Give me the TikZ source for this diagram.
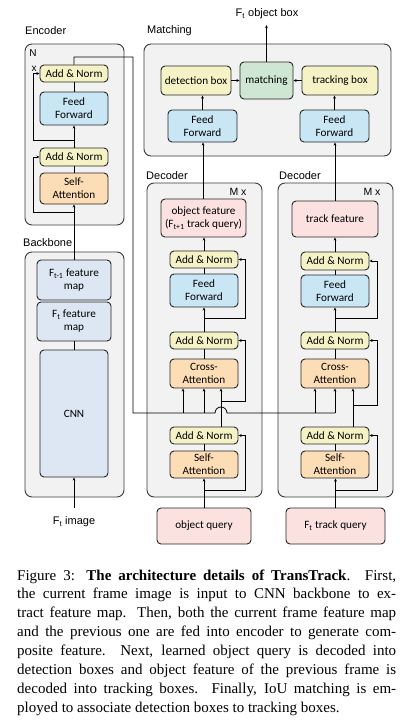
\documentclass[tikz,border=0pt]{standalone}
\usepackage{fontspec}
\setmainfont{Liberation Serif}
\newfontfamily\cf{Carlito}
\newfontfamily\af{Liberation Sans}
\usetikzlibrary{arrows.meta}
\definecolor{grp}{HTML}{F2F2F2}
\definecolor{grpline}{HTML}{3A3A3A}
\definecolor{anY}{HTML}{F5F3C6}
\definecolor{ffB}{HTML}{C9E6F5}
\definecolor{atO}{HTML}{FDDDB6}
\definecolor{pkP}{HTML}{FCE1E1}
\definecolor{mtG}{HTML}{CFE7D2}
\definecolor{bbB}{HTML}{DCE7F3}
\newcommand\mybox[7]{\node[#1,minimum width={(#5-#3)*1pt},minimum height={(#6-#4)*1pt}] (#2) at ({(#3+#5)/2},{(#4+#6)/2}) {#7};}
\begin{document}
\begin{tikzpicture}[x=1pt,y=-1pt,
 grpbox/.style={draw=grpline, fill=grp, rounded corners=7pt, line width=0.9pt, inner sep=0pt},
 blk/.style={draw=black!85, rounded corners=4pt, line width=0.9pt, align=center, font=\cf\fontsize{11.2}{13}\selectfont, inner sep=0pt},
 an/.style={blk, fill=anY},
 ff/.style={blk, fill=ffB},
 att/.style={blk, fill=atO},
 pk/.style={blk, fill=pkP},
 mt/.style={blk, fill=mtG},
 bb/.style={blk, fill=bbB},
 lbl/.style={font=\af\fontsize{11}{13}\selectfont, inner sep=0pt},
 captxt/.style={font=\fontsize{15}{19}\selectfont, inner sep=0pt},
 con/.style={line width=0.8pt, black},
 arr/.style={con, -{Stealth[length=3.2pt,width=2.8pt]}},
]
\fill[white] (0,0) rectangle (414,726);
\useasboundingbox (0,0) rectangle (414,726);

% ---------- group boxes ----------
\mybox{grpbox}{encG}{25}{44}{124}{225}{}
\mybox{grpbox}{bbG}{25}{252}{124}{497}{}
\mybox{grpbox}{mG}{144}{44}{391}{156}{}
\mybox{grpbox}{d1G}{147}{183}{262}{497}{}
\mybox{grpbox}{d2G}{278}{183}{393}{497}{}

% ---------- labels ----------
\node[lbl, anchor=west] (lEnc) at (25,31) {Encoder};
\node[lbl, anchor=west] (lMat) at (147,31) {Matching};
\node[lbl, anchor=west] (lDec1) at (146,176) {Decoder};
\node[lbl, anchor=west] (lDec2) at (279,176) {Decoder};
\node[lbl, anchor=west] (lBb) at (23,243) {Backbone};
\node[lbl, font=\af\fontsize{10}{12}\selectfont] (lN) at (33,53) {N};
\node[lbl, font=\af\fontsize{10}{12}\selectfont] (lx) at (34,69) {x};
\node[lbl, font=\af\fontsize{10.5}{12}\selectfont] (lM1) at (238,192) {M x};
\node[lbl, font=\af\fontsize{10.5}{12}\selectfont] (lM2) at (372,192) {M x};
\node[lbl] (lOut) at (267,14) {F\textsubscript{t} object box};
\node[lbl] (lImg) at (74,522) {F\textsubscript{t} image};

% ---------- encoder ----------
\mybox{an}{eAN2}{40}{65}{108}{82}{Add \& Norm}
\mybox{ff}{eFF}{40}{92}{108}{125}{Feed\\Forward}
\mybox{an}{eAN1}{40}{148}{108}{166}{Add \& Norm}
\mybox{att}{eSA}{40}{173}{108}{204}{Self-\\Attention}

% ---------- backbone ----------
\mybox{bb}{fm1}{37}{260}{111}{300}{F\textsubscript{t-1} feature\\map}
\mybox{bb}{fm0}{37}{302}{111}{341}{F\textsubscript{t} feature\\map}
\mybox{bb}{cnn}{40}{350}{108}{477}{CNN}

% ---------- matching ----------
\mybox{an}{det}{161}{66}{231}{95}{detection box}
\mybox{mt}{mat}{240}{62}{293}{99}{matching}
\mybox{an}{trk}{302}{66}{378}{95}{tracking box}
\mybox{ff}{mFF1}{168}{110}{237}{142}{Feed\\Forward}
\mybox{ff}{mFF2}{300}{110}{369}{142}{Feed\\Forward}

% ---------- decoder 1 ----------
\mybox{pk}{objf}{161}{199}{246}{237}{object feature\\(F\textsubscript{t+1} track query)}
\mybox{an}{d1AN3}{170}{251}{238}{268}{Add \& Norm}
\mybox{ff}{d1FF}{170}{274}{238}{307}{Feed\\Forward}
\mybox{an}{d1AN2}{170}{332}{238}{349}{Add \& Norm}
\mybox{att}{d1CA}{170}{359}{238}{388}{Cross-\\Attention}
\mybox{an}{d1AN1}{170}{427}{238}{444}{Add \& Norm}
\mybox{att}{d1SA}{170}{451}{238}{478}{Self-\\Attention}
\mybox{pk}{oq}{157}{508}{251}{544}{object query}

% ---------- decoder 2 ----------
\mybox{pk}{tf}{292}{201}{378}{237}{track feature}
\mybox{an}{d2AN3}{301}{252}{369}{270}{Add \& Norm}
\mybox{ff}{d2FF}{301}{275}{369}{307}{Feed\\Forward}
\mybox{an}{d2AN2}{301}{332}{369}{349}{Add \& Norm}
\mybox{att}{d2CA}{301}{359}{369}{388}{Cross-\\Attention}
\mybox{an}{d2AN1}{301}{427}{369}{444}{Add \& Norm}
\mybox{att}{d2SA}{301}{451}{369}{478}{Self-\\Attention}
\mybox{pk}{tq}{286}{508}{385}{544}{F\textsubscript{t} track query}

% ---------- encoder / backbone connectors ----------
\coordinate (imgS) at (74,508);
\draw[arr] (imgS) -- (cnn.south);
\draw[con] (cnn.north) -- (fm0.south);
\draw[arr] (fm1.north) -- (eSA.south);
\draw[con] (eSA.north) -- (eAN1.south);
\draw[arr] (eAN1.north) -- (eFF.south);
\draw[con] (eFF.north) -- (eAN2.south);
\coordinate (er1) at (74,212); \coordinate (er1L) at (33,212);
\draw[arr] (er1) -- (er1L) |- (eAN1.west);
\coordinate (er2) at (74,140); \coordinate (er2L) at (33,140);
\draw[arr] (er2) -- (er2L) |- (eAN2.west);

% encoder output to decoders
\coordinate (eo1) at (74,57);
\coordinate (eo2) at (133,57);
\coordinate (eo3) at (133,413);
\coordinate (bumpA) at (215,413);
\coordinate (eoEnd) at (335,413);
\draw[con] (eAN2.north) -- (eo1) -- (eo2) -- (eo3) -- (bumpA) arc[start angle=180, end angle=0, radius=6pt] -- (eoEnd);
\coordinate (t1) at (183,413); \coordinate (t2) at (204,413);
\coordinate (t3) at (315,413); \coordinate (t4) at (335,413);
\draw[arr] (t1) -- (t1 |- d1CA.south);
\draw[arr] (t2) -- (t2 |- d1CA.south);
\draw[arr] (t3) -- (t3 |- d2CA.south);
\draw[arr] (t4) -- (t4 |- d2CA.south);

% ---------- decoder 1 connectors ----------
\draw[arr] (oq.north) -- (d1SA.south);
\coordinate (d1r1) at (204,490); \coordinate (d1r1R) at (245,490);
\draw[arr] (d1r1) -- (d1r1R) |- (d1AN1.east);
\draw[con] (d1SA.north) -- (d1AN1.south);
\coordinate (d1q) at (221,427);
\draw[arr] (d1q) -- (d1q |- d1CA.south);
\coordinate (d1r2) at (221,401); \coordinate (d1r2R) at (245,401);
\draw[arr] (d1r2) -- (d1r2R) |- (d1AN2.east);
\draw[con] (d1CA.north) -- (d1AN2.south);
\draw[arr] (d1AN2.north) -- (d1FF.south);
\coordinate (d1r3) at (204,318); \coordinate (d1r3R) at (245,318);
\draw[arr] (d1r3) -- (d1r3R) |- (d1AN3.east);
\draw[con] (d1FF.north) -- (d1AN3.south);
\draw[arr] (d1AN3.north) -- (d1AN3.north |- objf.south);
\coordinate (o1) at (203,199);
\draw[arr] (o1) -- (o1 |- mFF1.south);

% ---------- decoder 2 connectors ----------
\draw[arr] (tq.north) -- (tq.north |- d2SA.south);
\coordinate (d2r1) at (335,490); \coordinate (d2r1R) at (377,490);
\draw[arr] (d2r1) -- (d2r1R) |- (d2AN1.east);
\draw[con] (d2SA.north) -- (d2AN1.south);
\coordinate (d2q) at (353,427);
\draw[arr] (d2q) -- (d2q |- d2CA.south);
\coordinate (d2r2) at (353,405); \coordinate (d2r2R) at (377,405);
\draw[arr] (d2r2) -- (d2r2R) |- (d2AN2.east);
\draw[con] (d2CA.north) -- (d2AN2.south);
\draw[arr] (d2AN2.north) -- (d2FF.south);
\coordinate (d2r3) at (335,318); \coordinate (d2r3R) at (377,318);
\draw[arr] (d2r3) -- (d2r3R) |- (d2AN3.east);
\draw[con] (d2FF.north) -- (d2AN3.south);
\draw[arr] (d2AN3.north) -- (d2AN3.north |- tf.south);
\draw[arr] (tf.north) -- (tf.north |- mFF2.south);

% ---------- matching connectors ----------
\draw[arr] (mFF1.north) -- (mFF1.north |- det.south);
\draw[arr] (mFF2.north) -- (mFF2.north |- trk.south);
\draw[arr] (det.east) -- (mat.west);
\draw[arr] (trk.west) -- (mat.east);
\coordinate (outE) at (266.5,25);
\draw[arr] (mat.north) -- (outE);

% ---------- caption ----------
\node[captxt, anchor=base west] (c1) at (17,580) {\makebox[379pt][s]{Figure 3: \textbf{The architecture details of TransTrack}. First,}};
\node[captxt, anchor=base west] (c2) at (17,598.9) {\makebox[379pt][s]{the current frame image is input to CNN backbone to ex-}};
\node[captxt, anchor=base west] (c3) at (17,617.8) {\makebox[379pt][s]{tract feature map. Then, both the current frame feature map}};
\node[captxt, anchor=base west] (c4) at (17,636.7) {\makebox[379pt][s]{and the previous one are fed into encoder to generate com-}};
\node[captxt, anchor=base west] (c5) at (17,655.6) {\makebox[379pt][s]{posite feature.\ \ Next, learned object query is decoded into}};
\node[captxt, anchor=base west] (c6) at (17,674.5) {\makebox[379pt][s]{detection boxes and object feature of the previous frame is}};
\node[captxt, anchor=base west] (c7) at (17,693.4) {\makebox[379pt][s]{decoded into tracking boxes. Finally, IoU matching is em-}};
\node[captxt, anchor=base west] (c8) at (17,712.3) {ployed to associate detection boxes to tracking boxes.};
\end{tikzpicture}
\end{document}
